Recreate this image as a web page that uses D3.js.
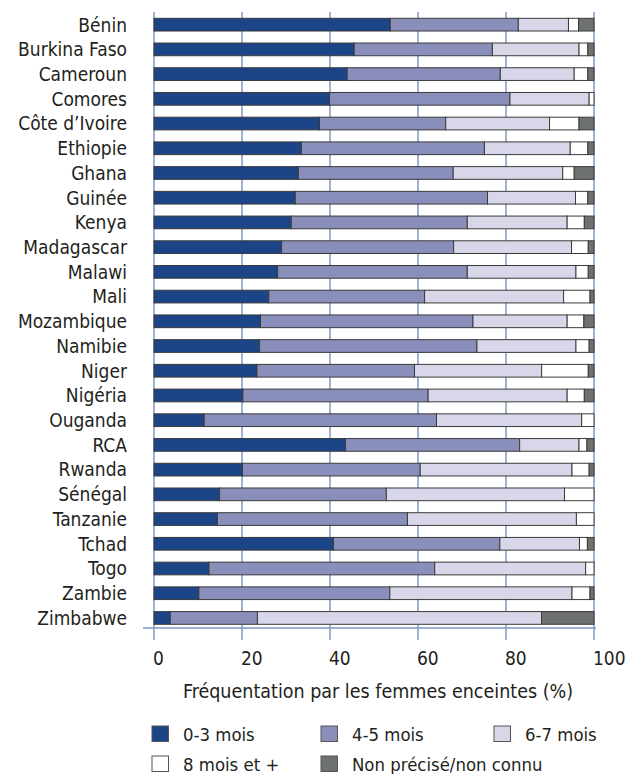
<!DOCTYPE html>
<html lang="fr">
<head>
<meta charset="UTF-8">
<title>Fréquentation par les femmes enceintes</title>
<script src="https://d3js.org/d3.v7.min.js"></script>
<style>
  body { margin: 0; background: #fff; }
  svg text { font-family: "DejaVu Sans Condensed", "DejaVu Sans", sans-serif; font-stretch: condensed; fill: #231f20; }
</style>
</head>
<body>
<div id="chart"></div>
<script>
// categories, top to bottom
var countries = ["Bénin", "Burkina Faso", "Cameroun", "Comores", "Côte d’Ivoire", "Ethiopie",
  "Ghana", "Guinée", "Kenya", "Madagascar", "Malawi", "Mali", "Mozambique", "Namibie",
  "Niger", "Nigéria", "Ouganda", "RCA", "Rwanda", "Sénégal", "Tanzanie", "Tchad",
  "Togo", "Zambie", "Zimbabwe"];

var seriesNames = ["0-3 mois", "4-5 mois", "6-7 mois", "8 mois et +", "Non précisé/non connu"];
var seriesColors = ["#1b4586", "#8a8ebb", "#d8d7ea", "#ffffff", "#6d726f"];

// % per country, one array per series
var m0_3 = [53.7, 45.5, 43.9, 39.9, 37.6, 33.5, 32.8, 32.1, 31.2, 29.0, 28.1, 26.1, 24.2,
  24.0, 23.4, 20.2, 11.4, 43.5, 20.1, 14.9, 14.4, 40.8, 12.5, 10.2, 3.7];
var m4_5 = [29.1, 31.4, 34.8, 41.0, 28.7, 41.6, 35.2, 43.7, 40.0, 39.1, 43.1, 35.4, 48.3,
  49.4, 35.8, 42.1, 52.8, 39.6, 40.4, 37.9, 43.2, 37.8, 51.3, 43.4, 19.8];
var m6_7 = [11.4, 19.7, 16.8, 18.0, 23.6, 19.5, 24.9, 20.0, 22.7, 26.8, 24.7, 31.6, 21.4,
  22.5, 28.9, 31.6, 33.0, 13.5, 34.5, 40.5, 38.4, 18.1, 34.3, 41.4, 64.6];
var m8plus = [2.3, 2.0, 3.1, 1.1, 6.7, 4.0, 2.6, 2.8, 3.9, 3.8, 2.8, 6.0, 3.8,
  3.0, 10.6, 3.9, 2.8, 1.8, 3.9, 6.7, 4.0, 1.8, 1.9, 4.1, 0];
var nonConnu = [3.5, 1.4, 1.4, 0, 3.4, 1.4, 4.5, 1.4, 2.2, 1.3, 1.3, 0.9, 2.3,
  1.1, 1.3, 2.2, 0, 1.6, 1.1, 0, 0, 1.5, 0, 0.9, 11.9];

var xTicks = [0, 20, 40, 60, 80, 100];

var W = 627, H = 774;

var svg = d3.select("#chart").append("svg")
  .attr("width", W)
  .attr("height", H);

var x = d3.scaleLinear().domain([0, 100]).range([154, 594]);
var y = d3.scaleBand().domain(countries).range([12.3, 630.3])
  .paddingInner(0.486).paddingOuter(0.243);

// table for the stack
var table = countries.map(function(c, i) {
  return { country: c, s0: m0_3[i], s1: m4_5[i], s2: m6_7[i], s3: m8plus[i], s4: nonConnu[i] };
});
var keys = ["s0", "s1", "s2", "s3", "s4"];
var stacked = d3.stack().keys(keys)(table);

// gridlines (behind the bars)
svg.append("g")
  .selectAll("line")
  .data(xTicks)
  .enter().append("line")
    .attr("x1", function(d) { return x(d); })
    .attr("x2", function(d) { return x(d); })
    .attr("y1", 12)
    .attr("y2", 640)
    .attr("stroke", "#7f98c4")
    .attr("stroke-width", 1.5);

// bottom axis line
svg.append("line")
  .attr("x1", 143).attr("x2", 596)
  .attr("y1", 628).attr("y2", 628)
  .attr("stroke", "#7f98c4")
  .attr("stroke-width", 1.5);

// bars
svg.append("g")
  .selectAll("g")
  .data(stacked)
  .enter().append("g")
    .attr("fill", function(d, i) { return seriesColors[i]; })
  .selectAll("rect")
  .data(function(d) { return d.filter(function(p) { return p[1] - p[0] > 0; }); })
  .enter().append("rect")
    .attr("x", function(d) { return x(d[0]); })
    .attr("y", function(d) { return y(d.data.country); })
    .attr("width", function(d) { return x(d[1]) - x(d[0]); })
    .attr("height", y.bandwidth())
    .attr("stroke", "#3b3b3b")
    .attr("stroke-width", 1);

// country labels
svg.append("g")
  .selectAll("text")
  .data(countries)
  .enter().append("text")
    .attr("x", 127)
    .attr("y", function(d) { return y(d) + y.bandwidth() / 2; })
    .attr("dy", "0.36em")
    .attr("text-anchor", "end")
    .style("font-size", "19px")
    .text(function(d) { return d; });

// tick labels (left aligned on the gridline, like the original)
svg.append("g")
  .selectAll("text")
  .data(xTicks)
  .enter().append("text")
    .attr("x", function(d) { return x(d) - 1; })
    .attr("y", 665)
    .style("font-size", "19px")
    .text(function(d) { return d; });

// axis title
svg.append("text")
  .attr("x", 378)
  .attr("y", 698)
  .attr("text-anchor", "middle")
  .style("font-size", "19.5px")
  .text("Fréquentation par les femmes enceintes (%)");

// legend
var legPos = [[152, 726], [321, 726], [494, 726], [152, 756], [321, 756]];
var leg = svg.append("g")
  .selectAll("g")
  .data(seriesNames)
  .enter().append("g")
    .attr("transform", function(d, i) { return "translate(" + legPos[i][0] + "," + legPos[i][1] + ")"; });

leg.append("rect")
  .attr("width", 16.5)
  .attr("height", 15.5)
  .attr("fill", function(d, i) { return seriesColors[i]; })
  .attr("stroke", "#555")
  .attr("stroke-width", 1);

leg.append("text")
  .attr("x", 31)
  .attr("y", 15)
  .style("font-size", "18.4px")
  .text(function(d) { return d; });
</script>
</body>
</html>
